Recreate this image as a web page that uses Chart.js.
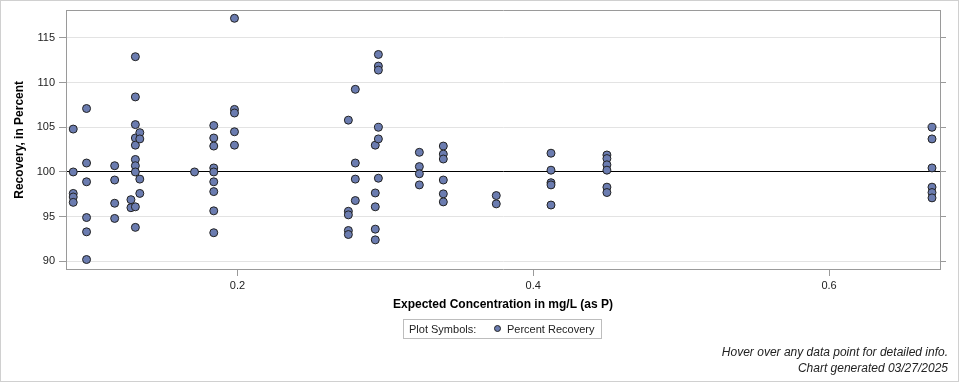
<!DOCTYPE html>
<html>
<head>
<meta charset="utf-8">
<script src="https://cdn.jsdelivr.net/npm/chart.js@4"></script>
<style>
    body { margin: 0; background: #fff; font-family: "Liberation Sans", Arial, sans-serif; }
    #wrap { position: relative; width: 960px; height: 384px; }
    #frame { position: absolute; left: 0; top: 0; width: 957px; height: 380px; border: 1px solid #d0d0d0; pointer-events: none; }
    #legend { position: absolute; left: 403px; top: 319px; width: 197px; height: 18px; border: 1px solid #bdbdbd; font-size: 11px; color: #222; }
    #legend .lbl { position: absolute; left: 5px; top: 3px; }
    #legend .dot { position: absolute; left: 90px; top: 5px; width: 7px; height: 7px; border-radius: 50%; background: #6b7cb0; border: 1px solid #222; box-sizing: border-box; }
    #legend .name { position: absolute; left: 103px; top: 3px; }
    .note { position: absolute; right: 12px; font-size: 12px; font-style: italic; color: #222; }
</style>
</head>
<body>
<div id="wrap">
    <canvas id="recoveryChart" width="960" height="384"></canvas>
    <div id="frame"></div>
    <div id="legend"><span class="lbl">Plot Symbols:</span><span class="dot"></span><span class="name">Percent Recovery</span></div>
    <div class="note" style="top:345px">Hover over any data point for detailed info.</div>
    <div class="note" style="top:361px">Chart generated 03/27/2025</div>
</div>
<script>
// expected concentration levels (mg/L as P) and the recoveries measured at each
const concLevels = [0.089, 0.098, 0.117, 0.128, 0.131, 0.134, 0.171, 0.184, 0.198,
    0.275, 0.2797, 0.2932, 0.2953, 0.323, 0.3392, 0.375, 0.412, 0.4498, 0.6696];
const recoveryByLevel = [
    [104.8, 100.0, 97.6, 97.2, 96.6],
    [107.1, 101.0, 98.9, 94.9, 93.3, 90.2],
    [100.7, 99.1, 96.5, 94.8],
    [96.9, 96.0],
    [112.9, 108.4, 105.3, 103.8, 103.0, 101.4, 100.7, 100.0, 96.1, 93.8],
    [104.4, 103.7, 99.2, 97.6],
    [100.0],
    [105.2, 103.8, 102.9, 100.45, 100.0, 98.9, 97.8, 95.65, 93.2],
    [117.2, 107.0, 106.6, 104.5, 103.0],
    [105.8, 95.6, 95.2, 93.45, 93.0],
    [109.25, 101.0, 99.2, 96.8],
    [103.0, 97.65, 96.1, 93.6, 92.4],
    [113.15, 111.85, 111.4, 105.0, 103.7, 99.3],
    [102.2, 100.6, 99.8, 98.55],
    [102.9, 102.0, 101.45, 99.1, 97.55, 96.65],
    [97.36, 96.43],
    [102.1, 100.2, 98.8, 98.55, 96.3],
    [101.9, 101.5, 100.8, 100.2, 98.3, 97.7],
    [105.0, 103.7, 100.45, 98.3, 97.7, 97.1]
];
const xTicks = [0.2, 0.4, 0.6];
const yTicks = [90, 95, 100, 105, 110, 115];
const X_MIN = 0.0841, X_MAX = 0.675;
const Y_MIN = 89.14, Y_MAX = 118.06;

document.addEventListener('DOMContentLoaded', function () {
    const points = [];
    concLevels.forEach((c, i) => {
        recoveryByLevel[i].forEach(r => points.push({ x: c, y: r }));
    });

    const FONT = '"Liberation Sans", Arial, sans-serif';
    const AXIS_GRAY = '#9a9a9a';
    const setTicks = list => scale => { scale.ticks = list.map(v => ({ value: v })); };

    const ctx = document.getElementById('recoveryChart').getContext('2d');
    new Chart(ctx, {
        type: 'scatter',
        data: {
            datasets: [{
                label: 'Percent Recovery',
                data: points,
                backgroundColor: '#6b7cb0',
                borderColor: '#222',
                borderWidth: 1,
                pointRadius: 4,
                pointHoverRadius: 5,
            }],
        },
        options: {
            responsive: false,
            animation: false,
            layout: { padding: { left: 0, top: 9, right: 14, bottom: 65 } },
            plugins: {
                legend: { display: false },
            },
            scales: {
                x: {
                    type: 'linear',
                    position: 'bottom',
                    min: X_MIN,
                    max: X_MAX,
                    afterBuildTicks: setTicks(xTicks),
                    afterFit: s => { s.height = 50; },
                    grid: { drawOnChartArea: false, tickLength: 7, tickColor: AXIS_GRAY },
                    border: { color: AXIS_GRAY },
                    ticks: { font: { family: FONT, size: 11 }, color: '#222', padding: 3, maxRotation: 0 },
                    title: {
                        display: true,
                        text: 'Expected Concentration in mg/L (as P)',
                        font: { family: FONT, size: 12, weight: 'bold' },
                        color: '#000',
                        padding: { top: 0, bottom: 7 },
                    },
                },
                y: {
                    type: 'linear',
                    position: 'left',
                    min: Y_MIN,
                    max: Y_MAX,
                    afterBuildTicks: setTicks(yTicks),
                    afterFit: s => { s.width = 66; },
                    grid: {
                        color: c => (c.tick && c.tick.value === 100) ? '#000' : '#e3e3e3',
                        tickColor: AXIS_GRAY,
                        tickLength: 7,
                    },
                    border: { color: AXIS_GRAY },
                    ticks: { font: { family: FONT, size: 11 }, color: '#222', padding: 4 },
                    title: {
                        display: true,
                        text: 'Recovery, in Percent',
                        font: { family: FONT, size: 12, weight: 'bold' },
                        color: '#000',
                        padding: { top: 12, bottom: 0 },
                    },
                },
                y2: {
                    type: 'linear',
                    position: 'right',
                    min: Y_MIN,
                    max: Y_MAX,
                    afterBuildTicks: setTicks(yTicks),
                    afterFit: s => { s.width = 6; },
                    grid: { drawOnChartArea: false, tickLength: 6, tickColor: AXIS_GRAY },
                    border: { color: AXIS_GRAY },
                    ticks: { display: false },
                },
                x2: {
                    type: 'linear',
                    position: 'top',
                    min: X_MIN,
                    max: X_MAX,
                    afterFit: s => { s.height = 0; },
                    grid: { display: false },
                    border: { color: AXIS_GRAY },
                    ticks: { display: false },
                },
            },
        },
    });
});
</script>
</body>
</html>
